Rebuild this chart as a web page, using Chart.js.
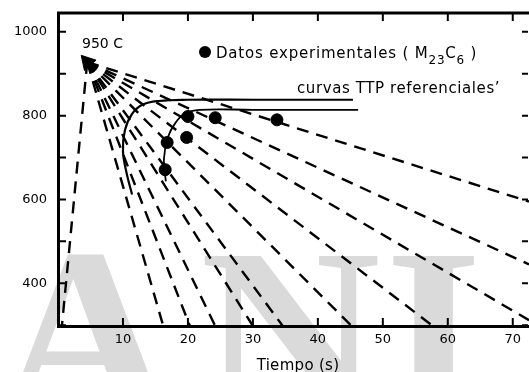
<!DOCTYPE html>
<html>
<head>
<meta charset="utf-8">
<script src="https://cdn.jsdelivr.net/npm/chart.js@4.4.1/dist/chart.umd.min.js"></script>
<style>
  html, body { margin: 0; padding: 0; background: #fff; }
</style>
</head>
<body>
<canvas id="ttpChart" width="529" height="372"></canvas>
<script>
// cooling lines all start from 950 C
const startX = 4.5;
const startY = 928;
// where each cooling line leaves the plot (bottom axis or right edge)
const coolEndX = [0.6, 16.2, 20.3, 24.2, 30, 34.6, 45.2, 57.7, 72.5, 72.5, 72.5];
const coolEndY = [298, 298, 298, 298, 298, 298, 298, 298, 312, 445, 595];

// reference TTP curves
const ttpOuterX = [45.4, 30, 20, 15.5, 13, 11.4, 10.3, 10, 10.6, 11.4];
const ttpOuterY = [838, 838, 838, 835, 826, 804, 765, 715, 660, 612];
const ttpInnerX = [46.2, 30, 21.8, 19.5, 18, 16.9, 16.3, 16.6];
const ttpInnerY = [814, 814, 814, 805, 781, 748, 695, 643];

// experimental points (M23C6)
const expX = [16.5, 16.8, 19.8, 20, 24.2, 33.7];
const expY = [671, 736, 748, 798, 795, 790];

const xTicks = [0, 10, 20, 30, 40, 50, 60, 70];
const yTicks = [400, 600, 800, 1000];
const yMinor = [300, 400, 500, 600, 700, 800, 900, 1000];

const toPts = (xs, ys) => xs.map((x, i) => ({ x: x, y: ys[i] }));

const datasets = [];
datasets.push({
  data: toPts(expX, expY),
  showLine: false,
  pointRadius: 6,
  pointBackgroundColor: '#000',
  pointBorderColor: '#000'
});
datasets.push({
  data: [{ x: startX, y: startY }],
  showLine: false,
  pointStyle: 'triangle',
  rotation: 198,
  pointRadius: 9,
  pointBackgroundColor: '#000',
  pointBorderColor: '#000'
});
datasets.push({
  data: toPts(ttpOuterX, ttpOuterY),
  showLine: true,
  borderColor: '#000',
  borderWidth: 2.2,
  tension: 0.4,
  pointRadius: 0
});
datasets.push({
  data: toPts(ttpInnerX, ttpInnerY),
  showLine: true,
  borderColor: '#000',
  borderWidth: 1.8,
  tension: 0.4,
  pointRadius: 0
});
coolEndX.forEach(function (ex, i) {
  datasets.push({
    data: [{ x: startX, y: startY }, { x: ex, y: coolEndY[i] }],
    showLine: true,
    borderColor: '#000',
    borderWidth: 2.4,
    borderDash: [12, 8],
    pointRadius: 0
  });
});

// grey watermark letters behind the chart
const watermark = {
  id: 'watermark',
  beforeDraw(chart) {
    const c = chart.ctx;
    c.save();
    c.fillStyle = '#dadada';
    c.font = 'bold 250px "Liberation Serif"';
    c.fillText('A', -5, 420);
    c.fillText('N', 200, 420);
    c.fillText('I', 385, 420);
    c.restore();
  }
};

// top border, inward ticks, legend and labels
const decor = {
  id: 'decor',
  afterDraw(chart) {
    const c = chart.ctx;
    const a = chart.chartArea;
    const xs = chart.scales.x, ys = chart.scales.y;
    c.save();
    c.strokeStyle = '#000';
    c.lineWidth = 3;
    c.beginPath();
    c.moveTo(a.left - 1, a.top);
    c.lineTo(a.right, a.top);
    c.stroke();
    c.lineWidth = 2;
    c.beginPath();
    xTicks.forEach(function (v) {
      if (v === 0) return;
      const px = xs.getPixelForValue(v);
      c.moveTo(px, a.bottom); c.lineTo(px, a.bottom - 8);
      c.moveTo(px, a.top); c.lineTo(px, a.top + 8);
    });
    yMinor.forEach(function (v) {
      const py = ys.getPixelForValue(v);
      c.moveTo(a.left, py); c.lineTo(a.left + 8, py);
      c.moveTo(a.right - 1, py); c.lineTo(a.right - 7, py);
    });
    c.stroke();

    c.fillStyle = '#000';
    c.font = '14px "DejaVu Sans"';
    c.fillText('950 C', 82, 48);

    c.beginPath();
    c.arc(205, 52, 6, 0, Math.PI * 2);
    c.fill();
    c.letterSpacing = '0.8px';
    let x = 216;
    const base = 58;
    const put = function (txt, size, dy) {
      c.font = size + 'px "DejaVu Sans"';
      c.fillText(txt, x, base + dy);
      x += c.measureText(txt).width;
    };
    put('Datos experimentales ( M', 15, 0);
    put('23', 12, 6);
    put('C', 15, 0);
    put('6', 12, 6);
    put(' )', 15, 0);

    c.letterSpacing = '0.6px';
    c.font = '15px "DejaVu Sans"';
    c.fillText('curvas TTP referenciales\u2019', 297, 93);

    c.letterSpacing = '0.3px';
    c.textAlign = 'center';
    c.fillText('Tiempo (s)', 298, 370);
    c.restore();
  }
};

new Chart(document.getElementById('ttpChart').getContext('2d'), {
  type: 'scatter',
  data: { datasets: datasets },
  options: {
    responsive: false,
    devicePixelRatio: 1,
    animation: false,
    layout: { autoPadding: false, padding: { top: 13, right: 0, left: 0, bottom: 0 } },
    plugins: {
      legend: { display: false },
      tooltip: { enabled: false }
    },
    scales: {
      x: {
        type: 'linear',
        min: 0,
        max: 72.5,
        afterFit: function (s) {
          s.height = 46;
          s.paddingLeft = 0;
          s.paddingRight = 0;
        },
        afterBuildTicks: function (s) { s.ticks = xTicks.map(v => ({ value: v })); },
        grid: { display: false, drawTicks: false },
        border: { display: true, width: 3, color: '#000' },
        ticks: {
          color: '#000',
          padding: 6,
          maxRotation: 0,
          autoSkip: false,
          font: { family: 'DejaVu Sans', size: 13 },
          callback: v => v === 0 ? '' : String(v)
        }
      },
      y: {
        type: 'linear',
        min: 298,
        max: 1045,
        afterFit: function (s) {
          s.width = 58;
          s.paddingTop = 0;
          s.paddingBottom = 0;
        },
        afterBuildTicks: function (s) { s.ticks = yTicks.map(v => ({ value: v })); },
        grid: { display: false, drawTicks: false },
        border: { display: true, width: 3, color: '#000' },
        ticks: {
          color: '#000',
          padding: 11,
          font: { family: 'DejaVu Sans', size: 13 },
          callback: v => String(v)
        }
      }
    }
  },
  plugins: [watermark, decor]
});
</script>
</body>
</html>
